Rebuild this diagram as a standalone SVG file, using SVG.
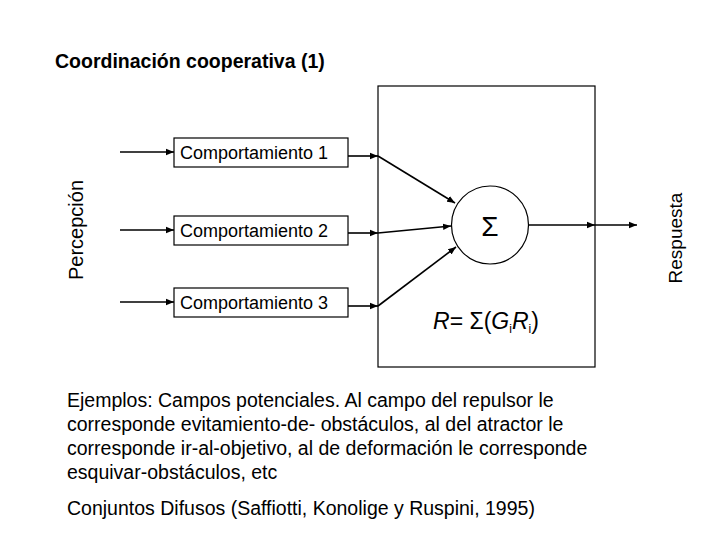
<svg xmlns="http://www.w3.org/2000/svg" width="720" height="540" viewBox="0 0 720 540">
<defs>
<style>
text{font-family:"Liberation Sans",Arial,sans-serif;fill:#000}
.b{fill:#fff;stroke:#000;stroke-width:1.2}
.c{stroke:#000;stroke-width:1.6;fill:none;marker-end:url(#a)}
.l{font-size:18px}
.p{font-size:19.5px}
</style>
<marker id="a" viewBox="0 0 10 10" refX="10" refY="5" markerWidth="5" markerHeight="5" orient="auto"><path d="M0,1L10,5L0,9z" fill="#000"/></marker>
</defs>
<rect width="720" height="540" fill="#fff"/>
<text x="55" y="68" font-size="19.5" font-weight="bold">Coordinación cooperativa (1)</text>
<g id="sum-box"><rect class="b" x="378" y="86" width="217" height="281"/></g>
<g id="b1"><rect class="b" x="174" y="138" width="174" height="29"/><text class="l" x="180" y="159">Comportamiento 1</text></g>
<g id="b2"><rect class="b" x="174" y="216" width="174" height="29"/><text class="l" x="180" y="237">Comportamiento 2</text></g>
<g id="b3"><rect class="b" x="174" y="288" width="174" height="29"/><text class="l" x="180" y="309">Comportamiento 3</text></g>
<g id="sigma"><ellipse class="b" cx="490" cy="225" rx="38.5" ry="39"/><text x="490" y="236" font-size="28" text-anchor="middle" font-family="Liberation Serif,serif">Σ</text></g>
<g id="connectors">
<path class="c" d="M120,152H174"/><path class="c" d="M120,230H174"/><path class="c" d="M120,302H174"/>
<path class="c" d="M348,156H378"/><path class="c" d="M348,233H378"/><path class="c" d="M348,306H378"/>
<path class="c" d="M378,156L455,203"/><path class="c" d="M378,233L451,226"/><path class="c" d="M378,306L456,247"/>
<path class="c" d="M528,225H595"/><path class="c" d="M595,225H637"/>
</g>
<text x="0" y="0" font-size="20" text-anchor="middle" transform="translate(83,230) rotate(-90)">Percepción</text>
<text x="0" y="0" font-size="19" text-anchor="middle" transform="translate(682,238) rotate(-90)">Respuesta</text>
<text x="433" y="329" font-size="23"><tspan font-style="italic">R</tspan>= Σ(<tspan font-style="italic">G</tspan><tspan font-size="12" dy="4">i</tspan><tspan font-style="italic" dy="-4">R</tspan><tspan font-size="12" dy="4">i</tspan><tspan dy="-4">)</tspan></text>
<text class="p" x="67" y="407">Ejemplos: Campos potenciales. Al campo del repulsor le</text>
<text class="p" x="67" y="431">corresponde evitamiento-de- obstáculos, al del atractor le</text>
<text class="p" x="67" y="455">corresponde ir-al-objetivo, al de deformación le corresponde</text>
<text class="p" x="67" y="479">esquivar-obstáculos, etc</text>
<text class="p" x="67" y="515">Conjuntos Difusos (Saffiotti, Konolige y Ruspini, 1995)</text>
</svg>
